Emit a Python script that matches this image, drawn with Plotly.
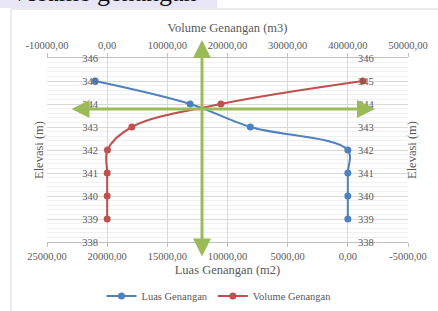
import plotly.graph_objects as go

# ---- data ----
elevasi = [345, 344, 343, 342, 341, 340, 339]
luas_genangan = [21000, 13100, 8100, 0, 0, 0, 0]
volume_genangan = [42500, 18900, 4100, 50, 0, 0, 0]

luas_tickvals = [25000, 20000, 15000, 10000, 5000, 0, -5000]
luas_ticktext = ["25000,00", "20000,00", "15000,00", "10000,00", "5000,00", "0,00", "-5000,00"]
vol_tickvals = [-10000, 0, 10000, 20000, 30000, 40000, 50000]
vol_ticktext = ["-10000,00", "0,00", "10000,00", "20000,00", "30000,00", "40000,00", "50000,00"]
elev_tickvals = [338, 339, 340, 341, 342, 343, 344, 345, 346]

W, H = 438, 311
def px(p):
    return p / W
def py(p):
    return 1 - p / H

FONT = "Liberation Serif"
TXT = "#595959"
GRID = "#d9d9d9"
BLUE = "#4F81BD"
RED = "#C0504D"
GREEN = "#9BBB59"

fig = go.Figure()
fig.add_trace(go.Scatter(
    x=luas_genangan, y=elevasi, name="Luas Genangan", mode="lines+markers",
    line=dict(color=BLUE, width=2, shape="spline", smoothing=1),
    marker=dict(color=BLUE, size=7), xaxis="x", yaxis="y"))
fig.add_trace(go.Scatter(
    x=volume_genangan, y=elevasi, name="Volume Genangan", mode="lines+markers",
    line=dict(color=RED, width=2, shape="spline", smoothing=1),
    marker=dict(color=RED, size=7), xaxis="x2", yaxis="y2"))

xdom = [px(47), px(408)]
ydom = [py(242), py(58)]
tickfont = dict(family=FONT, size=10.5, color=TXT)
titlefont = dict(family=FONT, size=12.5, color=TXT)

fig.update_layout(
    width=W, height=H, margin=dict(l=0, r=0, t=0, b=0),
    paper_bgcolor="white", plot_bgcolor="white",
    font=dict(family=FONT, color=TXT),
    xaxis=dict(domain=xdom, range=[25000, -5000], tickmode="array", automargin=False,
               tickvals=luas_tickvals, ticktext=luas_ticktext, tickfont=tickfont,
               showgrid=True, gridcolor=GRID, gridwidth=1, zeroline=False,
               showline=True, linecolor="#bfbfbf", ticks="outside", ticklen=4,
               tickcolor="#bfbfbf", anchor="y",
               title=dict(text="Luas Genangan (m2)", font=titlefont, standoff=4)),
    xaxis2=dict(overlaying="x", side="top", anchor="y", range=[-10000, 50000],
                automargin=False,
                tickmode="array", tickvals=vol_tickvals, ticktext=vol_ticktext,
                tickfont=tickfont, showgrid=False, zeroline=False,
                showline=True, linecolor="#bfbfbf", ticks="outside", ticklen=4,
                tickcolor="#bfbfbf",
                title=dict(text="Volume Genangan (m3)", font=titlefont, standoff=4)),
    yaxis=dict(domain=ydom, range=[338, 346], tickmode="array", tickvals=elev_tickvals,
               automargin=False,
               tickfont=tickfont, showgrid=True, gridcolor=GRID, zeroline=False,
               showline=False, ticks="", anchor="free", position=px(107), side="left",
               ticklabelstandoff=9,
               minor=dict(tickmode="linear", tick0=338, dtick=0.2, showgrid=True,
                          gridcolor="#f0f0f0", gridwidth=1)),
    yaxis2=dict(overlaying="y", range=[338, 346], tickmode="array", tickvals=elev_tickvals,
                automargin=False,
                tickfont=tickfont, showgrid=False, zeroline=False, showline=False,
                ticks="", anchor="free", position=px(348), side="right",
                ticklabelstandoff=9),
    legend=dict(orientation="h", x=0.5, xanchor="center", y=py(296), yanchor="middle",
                font=dict(family=FONT, size=10.5, color=TXT), bgcolor="rgba(0,0,0,0)"),
    showlegend=True,
)

# y-axis titles
fig.add_annotation(text="Elevasi (m)", xref="paper", yref="paper", x=px(30), y=py(150),
                   showarrow=False, textangle=-90, font=titlefont)
fig.add_annotation(text="Elevasi (m)", xref="paper", yref="paper", x=px(421), y=py(150),
                   showarrow=False, textangle=-90, font=titlefont)

# green double arrows
fig.add_annotation(x=px(202), y=py(40), xref="paper", yref="paper", ax=0, ay=218,
                   axref="pixel", ayref="pixel", text="", showarrow=True,
                   arrowhead=2, startarrowhead=2, arrowside="end+start",
                   arrowwidth=3, arrowsize=1.2, startarrowsize=1.2, arrowcolor=GREEN)
fig.add_annotation(x=px(375), y=py(109), xref="paper", yref="paper", ax=-305, ay=0,
                   axref="pixel", ayref="pixel", text="", showarrow=True,
                   arrowhead=2, startarrowhead=2, arrowside="end+start",
                   arrowwidth=3, arrowsize=1.2, startarrowsize=1.2, arrowcolor=GREEN)

# cut-off document heading and chart frame
fig.add_shape(type="rect", xref="paper", yref="paper", x0=0, x1=px(217), y0=py(8), y1=1,
              fillcolor="#E8E6F6", line=dict(width=0), layer="above")
fig.add_annotation(text="Volume genangan", xref="paper", yref="paper", x=px(8), y=py(9),
                   xanchor="left", yanchor="bottom", showarrow=False,
                   font=dict(family=FONT, size=26, color="#111111"))
fig.add_shape(type="path", xref="paper", yref="paper",
              path=f"M {px(11)} {py(320)} L {px(11)} {py(9)} L {px(445)} {py(9)}",
              line=dict(color="#d9d9d9", width=1))

fig.write_html("out.html", config={"displayModeBar": False},
               post_script="document.body.style.margin='0';")
